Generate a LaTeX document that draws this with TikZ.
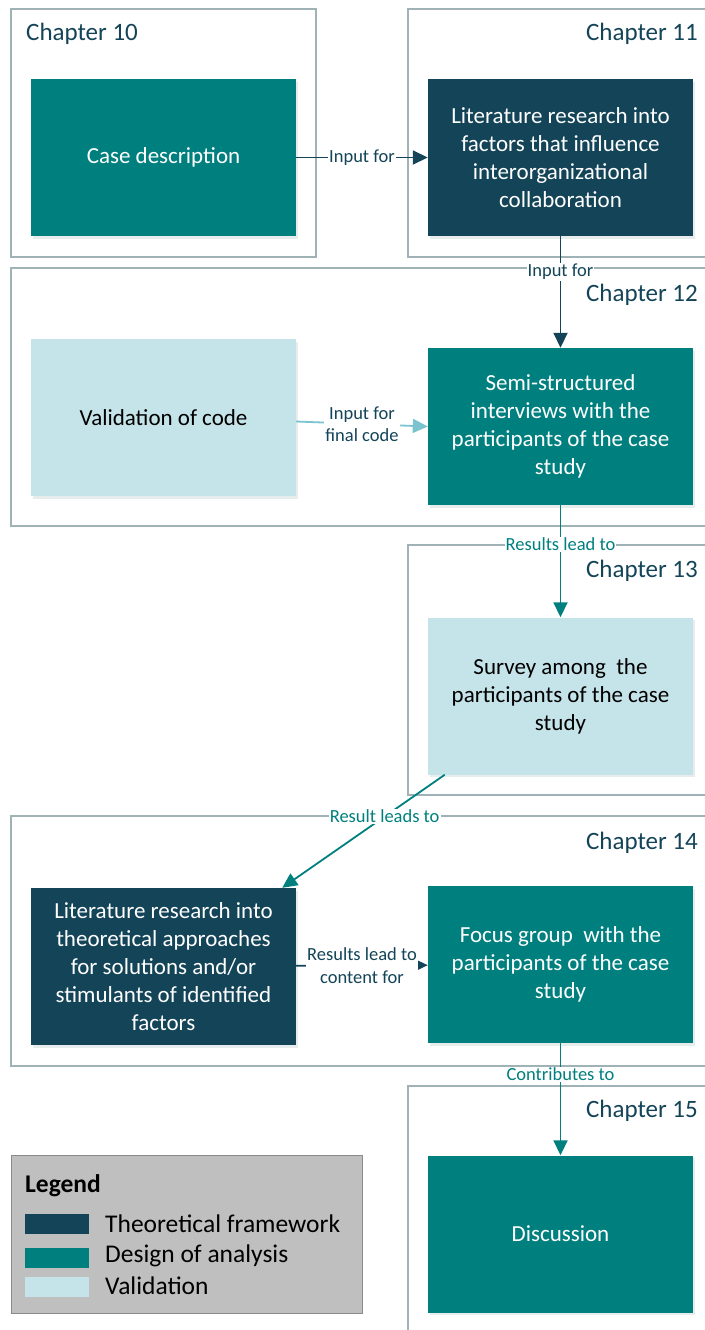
\documentclass[tikz,border=0pt]{standalone}
\usepackage{fontspec}
\setmainfont{Carlito}
\usetikzlibrary{arrows.meta,shadows}
\definecolor{cNavy}{HTML}{134458}
\definecolor{cTeal}{HTML}{007F7F}
\definecolor{cLight}{HTML}{C5E4E9}
\definecolor{cLink}{HTML}{7BC3CF}
\definecolor{cFrame}{HTML}{9FB3B7}
\definecolor{cLegend}{HTML}{BFBFBF}
\definecolor{cLegendLine}{HTML}{8A8A8A}
\begin{document}
\begin{tikzpicture}[x=1pt,y=-1pt,
  chframe/.style={draw=cFrame, line width=1.3pt},
  box/.style={minimum width=265, minimum height=157, inner sep=0pt, align=center,
    font=\fontsize{23}{28}\selectfont,
    drop shadow={shadow xshift=1.5pt, shadow yshift=-2.5pt, opacity=0.25, fill=cFrame}},
  navybox/.style={box, fill=cNavy, text=white},
  tealbox/.style={box, fill=cTeal, text=white},
  lightbox/.style={box, fill=cLight, text=black},
  chap/.style={font=\fontsize{25}{30}\selectfont, text=cNavy, inner sep=0pt},
  flow/.style={line width=1.8pt, -{Triangle[length=15pt,width=14pt]}},
  smallflow/.style={line width=1.8pt, -{Triangle[length=10pt,width=9pt]}},
  lbl/.style={font=\fontsize{18.5}{22.5}\selectfont, fill=white, inner sep=1pt, align=center},
  swatch/.style={minimum width=64, minimum height=20, inner sep=0pt},
  legtext/.style={font=\fontsize{25.5}{30}\selectfont, anchor=west, inner sep=0pt}
]
\useasboundingbox (0,0) rectangle (704,1330);

% chapter frames
\draw[chframe] (11,9) rectangle (316,257);
\draw[chframe] (408,9) rectangle (712,257);
\draw[chframe] (11,268) rectangle (712,526);
\draw[chframe] (408,545) rectangle (712,795);
\draw[chframe] (11,816) rectangle (712,1066);
\draw[chframe] (408,1086) rectangle (712,1340);

% chapter titles
\node[chap, anchor=west] (ch10) at (26,34) {Chapter 10};
\node[chap, anchor=east] (ch11) at (698,34) {Chapter 11};
\node[chap, anchor=east] (ch12) at (698,295) {Chapter 12};
\node[chap, anchor=east] (ch13) at (698,571) {Chapter 13};
\node[chap, anchor=east] (ch14) at (698,843) {Chapter 14};
\node[chap, anchor=east] (ch15) at (698,1111) {Chapter 15};

% activities
\node[tealbox] (case) at (163.5,157.5) {Case description};
\node[navybox] (lit1) at (560.5,157.5) {Literature research into\\factors that influence\\interorganizational\\collaboration};
\node[lightbox] (val) at (163.5,417.5) {Validation of code};
\node[tealbox] (semi) at (560.5,426.5) {Semi-structured\\interviews with the\\participants of the case\\study};
\node[lightbox] (survey) at (560.5,696) {Survey among\ \ the\\participants of the case\\study};
\node[navybox] (lit2) at (163.5,966.5) {Literature research into\\theoretical approaches\\for solutions and/or\\stimulants of identified\\factors};
\node[tealbox] (focus) at (560.5,964.5) {Focus group\ \ with the\\participants of the case\\study};
\node[tealbox] (disc) at (560.5,1234) {Discussion};

% connections
\draw[flow, draw=cNavy] (case) -- node[lbl, text=cNavy] {Input for} (lit1);
\draw[flow, draw=cNavy] (lit1) -- node[lbl, text=cNavy, pos=0.32] {Input for} (semi);
\draw[flow, draw=cLink] ([yshift=-4pt]val.east) -- node[lbl, text=cNavy] {Input for\\final code} (semi.west);
\draw[flow, draw=cTeal] (semi) -- node[lbl, text=cTeal, pos=0.35] {Results lead to} (survey);
\draw[flow, draw=cTeal] ([xshift=17pt]survey.south west) -- node[lbl, text=cTeal, pos=0.37] {Result leads to} ([xshift=-14pt]lit2.north east);
\draw[smallflow, draw=cNavy] (lit2) -- node[lbl, text=cNavy] {Results lead to\\content for} (focus);
\draw[flow, draw=cTeal] (focus) -- node[lbl, text=cTeal, pos=0.28] {Contributes to} (disc);

% legend
\node[draw=cLegendLine, line width=1pt, fill=cLegend, minimum width=351, minimum height=158, inner sep=0pt] (legend) at (186.5,1234) {};
\node[font=\fontsize{25.5}{30}\selectfont\bfseries, anchor=west, inner sep=0pt] (legtitle) at (25,1186) {Legend};
\node[swatch, fill=cNavy] (sw1) at (57,1223.5) {};
\node[swatch, fill=cTeal] (sw2) at (57,1257.5) {};
\node[swatch, fill=cLight] (sw3) at (57,1287) {};
\node[legtext] (leg1) at (105,1223.5) {Theoretical framework};
\node[legtext] (leg2) at (105,1256) {Design of analysis};
\node[legtext] (leg3) at (105,1286) {Validation};
\end{tikzpicture}
\end{document}
